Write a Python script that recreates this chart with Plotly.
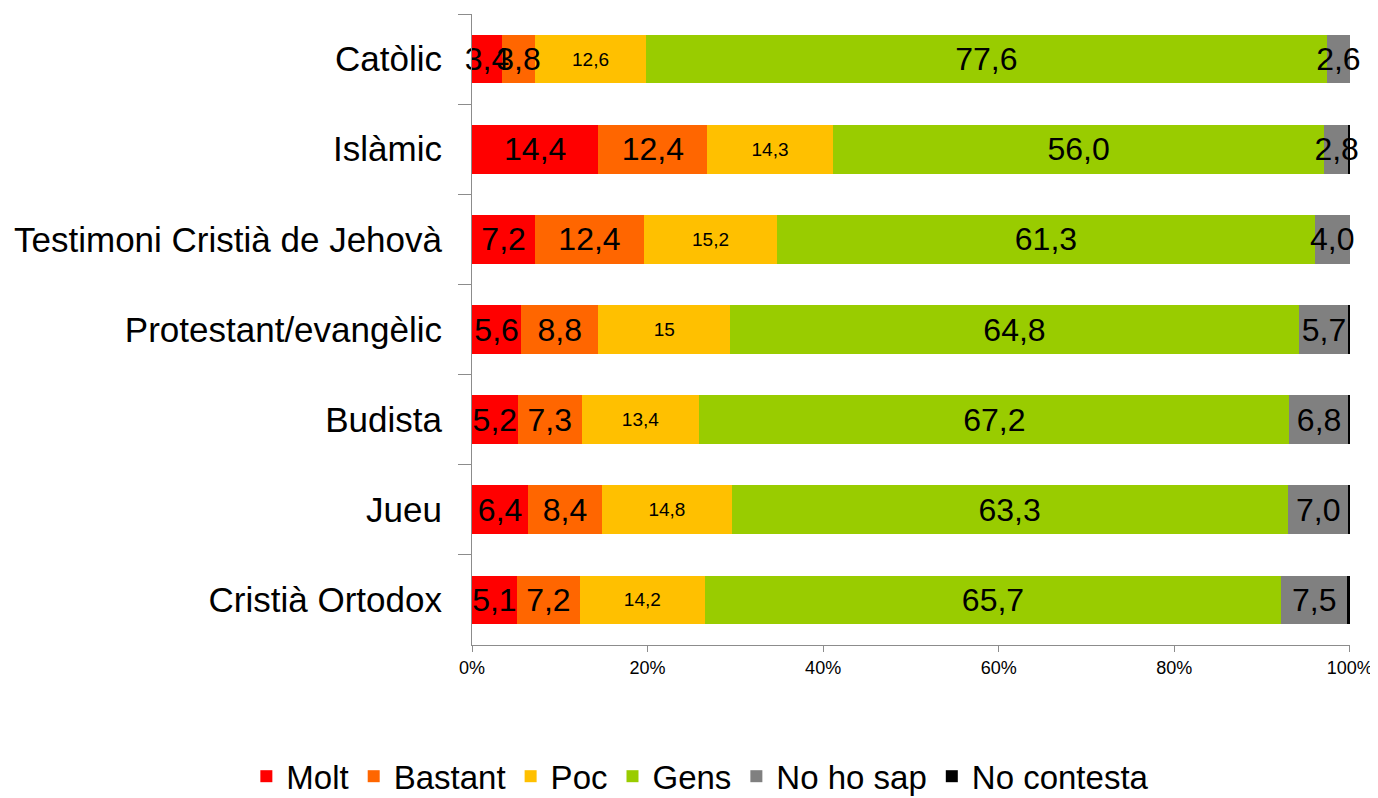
import plotly.graph_objects as go

categories = ["Catòlic", "Islàmic", "Testimoni Cristià de Jehovà", "Protestant/evangèlic",
              "Budista", "Jueu", "Cristià Ortodox"]
series_names = ["Molt", "Bastant", "Poc", "Gens", "No ho sap", "No contesta"]
molt = [3.4, 14.4, 7.2, 5.6, 5.2, 6.4, 5.1]
bastant = [3.8, 12.4, 12.4, 8.8, 7.3, 8.4, 7.2]
poc = [12.6, 14.3, 15.2, 15, 13.4, 14.8, 14.2]
gens = [77.6, 56.0, 61.3, 64.8, 67.2, 63.3, 65.7]
no_ho_sap = [2.6, 2.8, 4.0, 5.7, 6.8, 7.0, 7.5]
no_contesta = [0.0, 0.1, 0.0, 0.1, 0.1, 0.1, 0.3]
tick_vals = [0, 20, 40, 60, 80, 100]
tick_text = ["0%", "20%", "40%", "60%", "80%", "100%"]

colors = ["#FF0000", "#FF6600", "#FFC000", "#99CC00", "#808080", "#000000"]
values = [molt, bastant, poc, gens, no_ho_sap, no_contesta]
font_sizes = [32, 32, 19, 32, 32, 32]
FONT = "Liberation Sans, Arial, sans-serif"


def fmt(v):
    return f"{v:.1f}".replace(".", ",")


fig = go.Figure()
# coloured bars
for i, (name, vals) in enumerate(zip(series_names, values)):
    fig.add_trace(go.Bar(
        y=categories, x=vals, name=name, orientation="h",
        marker=dict(color=colors[i], line=dict(width=0)),
        hoverinfo="x+y+name",
    ))
# labels drawn on an overlaid axis so they sit above every bar
for i, (name, vals) in enumerate(zip(series_names, values)):
    if name == "Poc":
        texts = [("15" if v == 15 else fmt(v)) for v in vals]
    elif name == "No contesta":
        texts = ["" for v in vals]
    else:
        texts = [fmt(v) for v in vals]
    fig.add_trace(go.Bar(
        y=categories, x=vals, name=name, orientation="h", xaxis="x2",
        marker=dict(color="rgba(0,0,0,0)", line=dict(width=0)),
        text=texts, textposition="inside", insidetextanchor="middle",
        constraintext="none", textangle=0, cliponaxis=False,
        textfont=dict(family=FONT, size=font_sizes[i], color="black"),
        hoverinfo="skip", showlegend=False,
    ))

fig.update_layout(
    barmode="stack", barnorm="percent", bargap=0.46,
    width=1370, height=790,
    paper_bgcolor="white", plot_bgcolor="white",
    margin=dict(l=464, r=28, t=6, b=153, autoexpand=False),
    font=dict(family=FONT, color="black"),
    legend=dict(orientation="h", x=-0.257, xanchor="left", y=-0.208, yanchor="middle",
                font=dict(size=33, family=FONT), traceorder="normal",
                itemwidth=30),
    xaxis=dict(range=[0, 100.02], tickmode="array", tickvals=tick_vals, ticktext=tick_text,
               showgrid=False, zeroline=False, showline=True, linecolor="#8c8c8c", linewidth=1,
               ticks="outside", ticklen=6, tickcolor="#8c8c8c",
               tickfont=dict(size=18, family=FONT)),
    xaxis2=dict(range=[0, 100.02], overlaying="x", side="bottom", showgrid=False,
                zeroline=False, showline=False, showticklabels=False, ticks=""),
    yaxis=dict(autorange="reversed", showgrid=False, showline=True, linecolor="#8c8c8c",
               linewidth=1, ticks="outside", ticklen=13, tickcolor="#8c8c8c",
               tickson="boundaries", tickfont=dict(size=35, family=FONT),
               ticklabelstandoff=22),
)
fig.write_html("out.html")
